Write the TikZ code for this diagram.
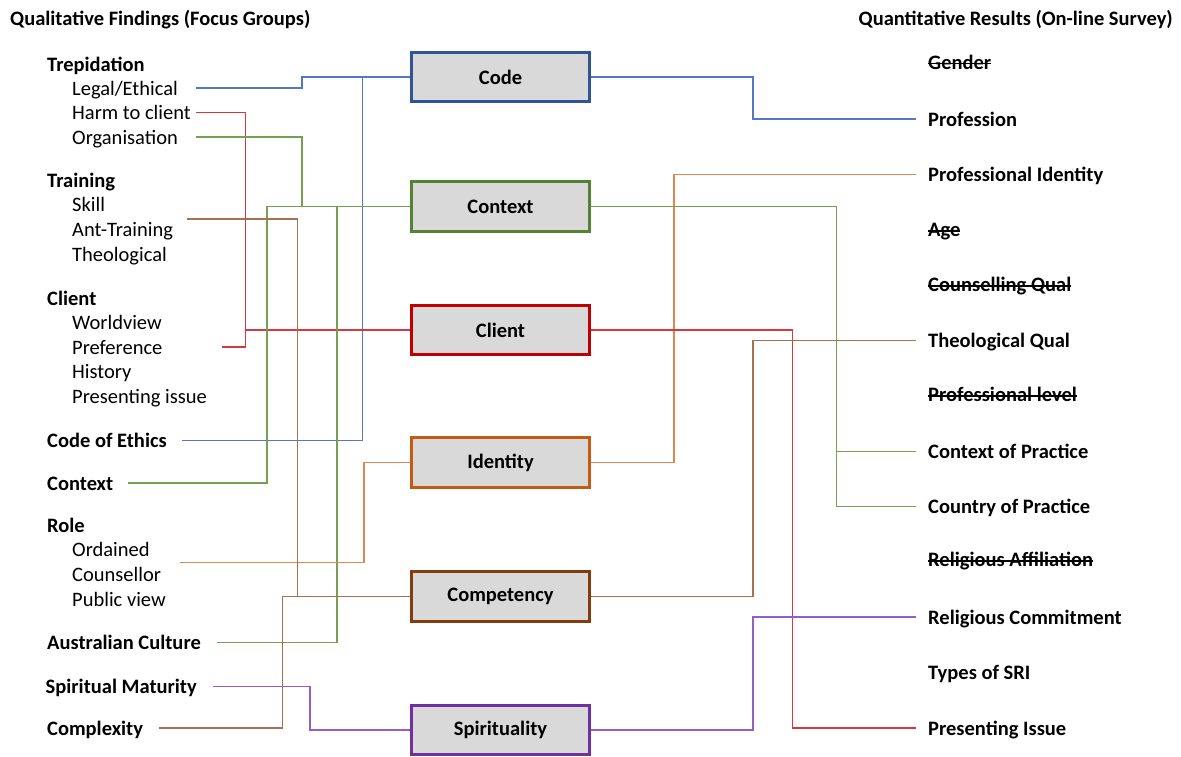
\documentclass[tikz,border=0pt]{standalone}
\usepackage{fontspec}
\setmainfont{Carlito}
\definecolor{boxgray}{HTML}{D9D9D9}
\definecolor{codeblue}{HTML}{2F5597}
\definecolor{contextgreen}{HTML}{548235}
\definecolor{clientred}{HTML}{C00000}
\definecolor{identityorange}{HTML}{C55A11}
\definecolor{competencybrown}{HTML}{843C0C}
\definecolor{spiritpurple}{HTML}{7030A0}
\newcommand{\itemfont}{\fontsize{20.5}{24}\selectfont}
\begin{document}
\begin{tikzpicture}[x=1pt, y=-1pt,
    topic/.style={draw, line width=3pt, fill=boxgray, minimum width=178pt, minimum height=49.5pt, font=\itemfont\bfseries},
    item/.style={anchor=west, inner sep=0pt, text height=14pt, text depth=0pt, font=\itemfont},
    group/.style={item, font=\itemfont\bfseries},
    struck/.style={group, path picture={\draw[line width=1.6pt] ([yshift=-1.5pt]path picture bounding box.west) -- ([yshift=-1.5pt]path picture bounding box.east);}},
    link/.style={line width=1.2pt},
    codeline/.style={link, draw={rgb,255:red,85;green,119;blue,196}},
    contextline/.style={link, draw={rgb,255:red,116;green,160;blue,80}},
    clientline/.style={link, draw={rgb,255:red,213;green,56;blue,62}},
    identityline/.style={link, draw={rgb,255:red,224;green,136;blue,80}},
    competencyline/.style={link, draw={rgb,255:red,168;green,112;blue,78}},
    spiritline/.style={link, draw={rgb,255:red,144;green,96;blue,200}}]
    \useasboundingbox (0,0) rectangle (1181,756);

    % headings
    \node[group] (qhead) at (10,18) {Qualitative Findings (Focus Groups)};
    \node[group, anchor=east] (shead) at (1173,18) {Quantitative Results (On-line Survey)};

    % qualitative findings
    \node[group] (qtrep) at (47,64) {Trepidation};
    \node[item] (qlegal) at (72,88) {Legal/Ethical};
    \node[item] (qharm) at (72,112.3) {Harm to client};
    \node[item] (qorg) at (72,137) {Organisation};
    \node[group] (qtrain) at (47,180.7) {Training};
    \node[item] (qskill) at (72,204.7) {Skill};
    \node[item] (qanti) at (72,229.7) {Ant-Training};
    \node[item] (qtheo) at (72,254) {Theological};
    \node[group] (qclient) at (47,298) {Client};
    \node[item] (qworld) at (72,322.3) {Worldview};
    \node[item] (qpref) at (72,347) {Preference};
    \node[item] (qhist) at (72,371.7) {History};
    \node[item] (qissue) at (72,396.3) {Presenting issue};
    \node[group] (qethics) at (47,440.3) {Code of Ethics};
    \node[group] (qcontext) at (47,483) {Context};
    \node[group] (qrole) at (47,525.3) {Role};
    \node[item] (qordained) at (72,549.7) {Ordained};
    \node[item] (qcouns) at (72,574.7) {Counsellor};
    \node[item] (qpublic) at (72,599) {Public view};
    \node[group] (qculture) at (47,642.3) {Australian Culture};
    \node[group] (qmaturity) at (45.5,686.3) {Spiritual Maturity};
    \node[group] (qcomplex) at (47,728) {Complexity};

    % themes
    \node[topic, draw=codeblue] (code) at (500.5,77) {Code};
    \node[topic, draw=contextgreen] (context) at (500.5,206.5) {Context};
    \node[topic, draw=clientred] (client) at (500.5,330) {Client};
    \node[topic, draw=identityorange] (identity) at (500.5,462.5) {Identity};
    \node[topic, draw=competencybrown] (competency) at (500.5,596.5) {Competency};
    \node[topic, draw=spiritpurple] (spirit) at (500.5,730) {Spirituality};

    % quantitative results
    \node[struck] (sgender) at (928,62) {Gender};
    \node[group] (sprof) at (928,119) {Profession};
    \node[group] (sident) at (928,174.7) {Professional Identity};
    \node[struck] (sage) at (928,229.7) {Age};
    \node[struck] (scouns) at (928,284.7) {Counselling Qual};
    \node[group] (stheo) at (928,340.3) {Theological Qual};
    \node[struck] (slevel) at (928,394.7) {Professional level};
    \node[group] (sctxprac) at (928,451.3) {Context of Practice};
    \node[group] (scountry) at (928,506.3) {Country of Practice};
    \node[struck] (saffil) at (928,559.7) {Religious Affiliation};
    \node[group] (scommit) at (928,617) {Religious Commitment};
    \node[group] (ssri) at (928,672.3) {Types of SRI};
    \node[group] (sissue) at (928,728) {Presenting Issue};

    % left links
    \draw[codeline] ([xshift=124pt]qlegal.west) -| ([xshift=-108pt]code.west) -- (code.west);
    \draw[codeline] ([xshift=135pt]qethics.west) -| ([xshift=-47.5pt]code.west);
    \draw[clientline] ([xshift=124pt]qharm.west) -| ([xshift=-164.5pt]client.west) -- (client.west);
    \draw[clientline] ([xshift=150pt]qpref.west) -| ([xshift=-164.5pt]client.west);
    \draw[contextline] ([xshift=124pt]qorg.west) -| ([xshift=-108pt]context.west) -- (context.west);
    \draw[contextline] ([xshift=81pt]qcontext.west) -| ([xshift=-143pt]context.west) -- (context.west);
    \draw[contextline] ([xshift=170pt]qculture.west) -| ([xshift=-73pt]context.west);
    \draw[identityline] ([xshift=108pt,yshift=-13pt]qordained.west) -| ([xshift=-46pt]identity.west) -- (identity.west);
    \draw[competencyline] ([xshift=115pt,yshift=10.7pt]qanti.west) -| ([xshift=-112.5pt]competency.west) -- (competency.west);
    \draw[competencyline] ([xshift=112pt]qcomplex.west) -| ([xshift=-127.5pt]competency.west) -- (competency.west);
    \draw[spiritline] ([xshift=167pt]qmaturity.west) -| ([xshift=-100pt]spirit.west) -- (spirit.west);

    % right links
    \draw[codeline] (code.east) -| ([xshift=-175pt]sprof.west) -- ([xshift=-12.5pt]sprof.west);
    \draw[identityline] (identity.east) -| ([xshift=-254pt]sident.west) -- ([xshift=-12.5pt]sident.west);
    \draw[contextline] (context.east) -| ([xshift=-91.5pt]scountry.west) -- ([xshift=-12.5pt]scountry.west);
    \draw[contextline] ([xshift=-91.5pt]sctxprac.west) -- ([xshift=-12.5pt]sctxprac.west);
    \draw[clientline] (client.east) -| ([xshift=-135.5pt]sissue.west) -- ([xshift=-12.5pt]sissue.west);
    \draw[competencyline] (competency.east) -| ([xshift=-175pt]stheo.west) -- ([xshift=-12.5pt]stheo.west);
    \draw[spiritline] (spirit.east) -| ([xshift=-175pt]scommit.west) -- ([xshift=-12.5pt]scommit.west);
\end{tikzpicture}
\end{document}
